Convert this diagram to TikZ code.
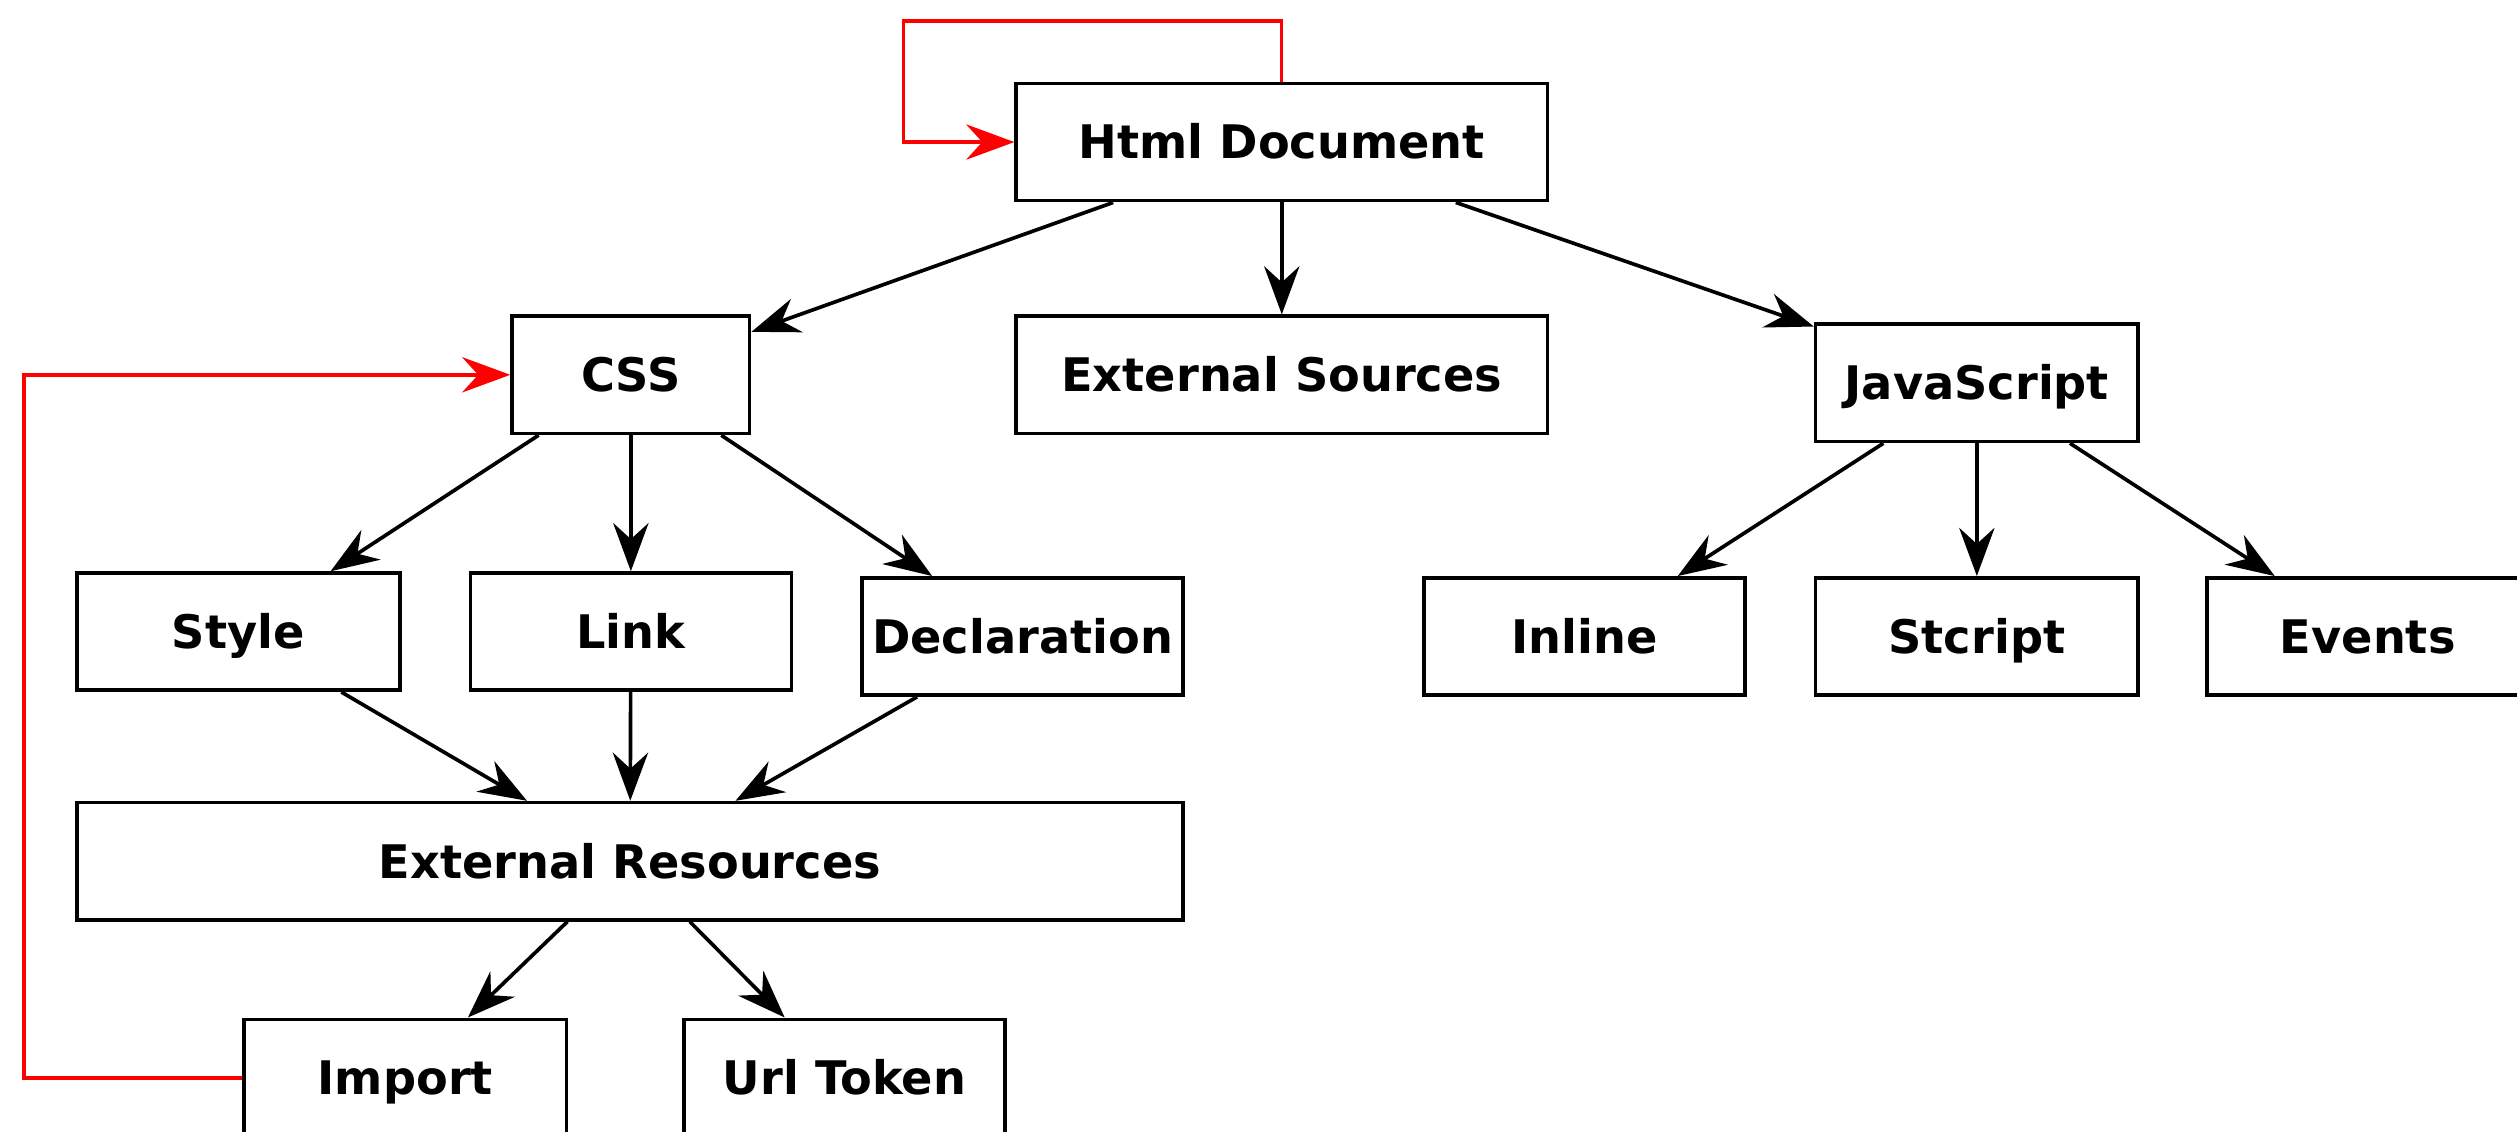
\documentclass[tikz,border=0pt]{standalone}
\usepackage{fontspec}
\setmainfont{DejaVu Sans}
\usetikzlibrary{arrows.meta}

\begin{document}
\begin{tikzpicture}[x=0.02cm,y=-0.02cm,
	block/.style={shape=rectangle,draw=black,line width=1.3pt,minimum height=1.46cm,inner sep=0pt,text height=12pt,text depth=0pt,font=\fontsize{16.4}{18}\selectfont\bfseries},
	flow/.style={-{Stealth[length=6mm,width=4.4mm,inset=2mm]},line width=1.3pt,black},
	back/.style={-{Stealth[length=6mm,width=4.4mm,inset=2mm]},line width=1.2pt,red}]
			\useasboundingbox (0,0) rectangle (1568,705);
			
			\node[block,minimum width=6.62cm] (html) at (798.5,88.5) {Html Document};
			\node[block,minimum width=2.96cm] (css) at (393,233.5) {CSS};
			\node[block,minimum width=6.62cm] (extsrc) at (798.5,233.5) {External Sources};
			\node[block,minimum width=4.02cm] (js) at (1231.5,238.5) {JavaScript};
			\node[block,minimum width=4.02cm] (style) at (148.5,393.5) {Style};
			\node[block,minimum width=4cm] (link) at (393,393.5) {Link};
			\node[block,minimum width=4cm] (decl) at (637,396.5) {Declaration};
			\node[block,minimum width=4cm] (inline) at (987,396.5) {Inline};
			\node[block,minimum width=4.02cm] (stcript) at (1231.5,396.5) {Stcript};
			\node[block,minimum width=4cm] (events) at (1475,396.5) {Events};
			\node[block,minimum width=13.78cm] (extres) at (392.5,536.5) {External Resources};
			\node[block,minimum width=4.02cm] (import) at (252.5,671.5) {Import};
			\node[block,minimum width=4cm] (urltok) at (526,671.5) {Url Token};
			
			\coordinate (loop) at (563,13);
			\coordinate (up) at (15,233.5);
			
			\path [flow] (html) edge (css);
			\path [flow] (html) edge (extsrc);
			\path [flow] (html) edge (js);
			\path [flow] (css) edge (style);
			\path [flow] (css) edge (link);
			\path [flow] (css) edge (decl);
			\path [flow] (js) edge (inline);
			\path [flow] (js) edge (stcript);
			\path [flow] (js) edge (events);
			\path [flow] (style) edge (extres);
			\path [flow] (link) edge (extres);
			\path [flow] (decl) edge (extres);
			\path [flow] (extres) edge (import);
			\path [flow] (extres) edge (urltok);
			
			\draw [back] (html.north) |- (loop) |- (html.west);
			\draw [back] (import.west) -| (up) -- (css.west);
		\end{tikzpicture}
\end{document}
